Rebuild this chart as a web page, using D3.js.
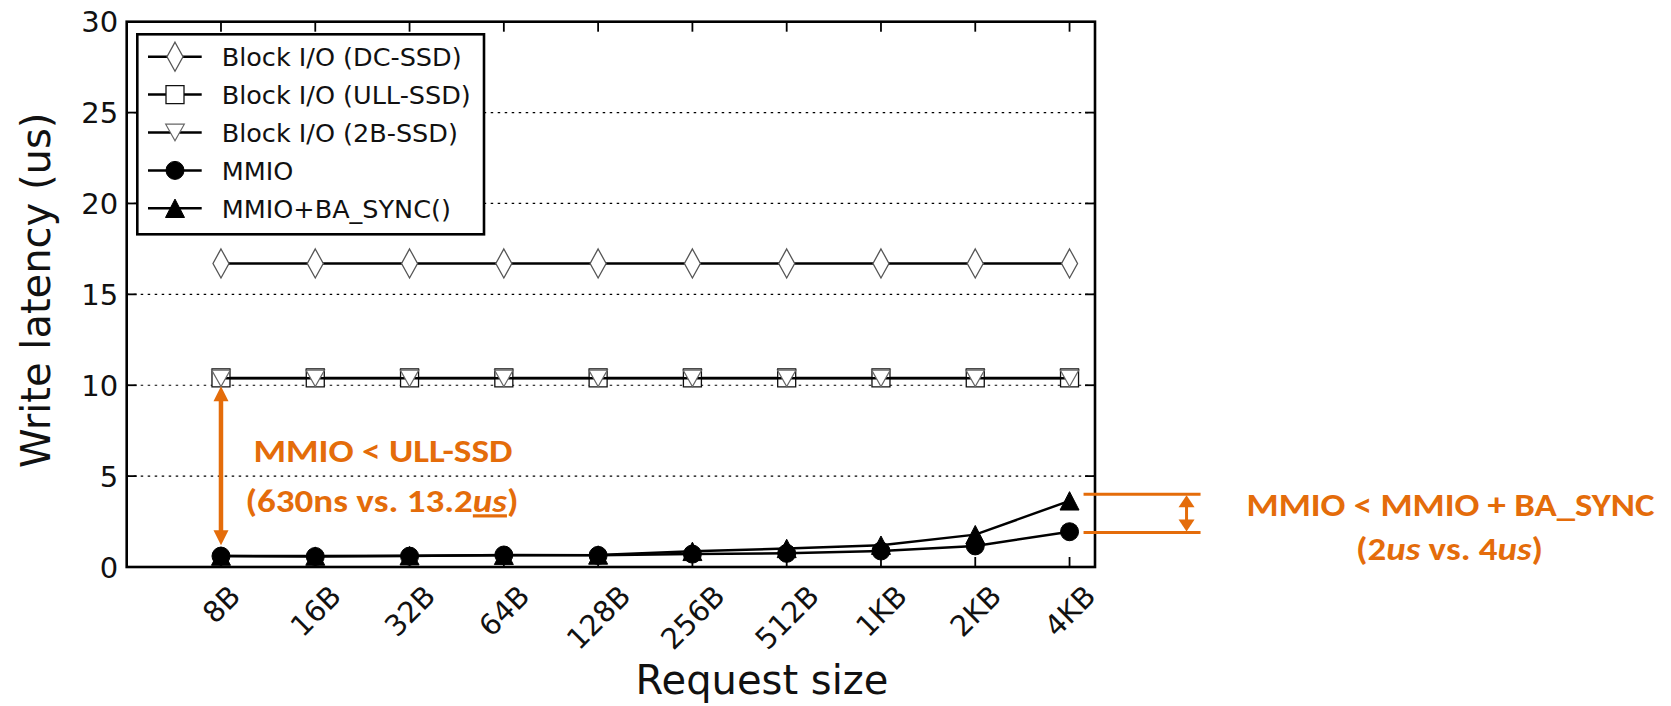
<!DOCTYPE html>
<html>
<head>
<meta charset="utf-8">
<script src="https://cdn.jsdelivr.net/npm/d3@7"></script>
<style>
  body { margin: 0; background: #fff; }
  svg { display: block; }
</style>
</head>
<body>
<div id="chart"></div>
<script>
// Data (write latency in us)
const sizes = ['8B', '16B', '32B', '64B', '128B', '256B', '512B', '1KB', '2KB', '4KB'];
const dcSsd  = [16.7, 16.7, 16.7, 16.7, 16.7, 16.7, 16.7, 16.7, 16.7, 16.7];
const ullSsd = [10.4, 10.4, 10.4, 10.4, 10.4, 10.4, 10.4, 10.4, 10.4, 10.4];
const b2Ssd  = [10.38, 10.38, 10.38, 10.38, 10.38, 10.38, 10.38, 10.38, 10.38, 10.38];
const mmio   = [0.6, 0.58, 0.6, 0.66, 0.64, 0.71, 0.75, 0.88, 1.16, 1.94];
const baSync = [0.6, 0.6, 0.62, 0.64, 0.66, 0.86, 1.02, 1.2, 1.78, 3.64];
const seriesNames = ['Block I/O (DC-SSD)', 'Block I/O (ULL-SSD)', 'Block I/O (2B-SSD)', 'MMIO', 'MMIO+BA_SYNC()'];
const yTicks = [0, 5, 10, 15, 20, 25, 30];
const gridTicks = [5, 10, 15, 20, 25];

// Set up SVG dimensions
const width = 1671;
const height = 706;
const margin = { top: 21.7, right: 576, bottom: 139, left: 126.7 };
const innerW = width - margin.left - margin.right;
const innerH = height - margin.top - margin.bottom;
const orange = '#E46C0A';
const font = '"DejaVu Sans", sans-serif';

const svg = d3.select('#chart')
  .append('svg')
  .attr('width', width)
  .attr('height', height);

const g = svg.append('g')
  .attr('transform', `translate(${margin.left},${margin.top})`);

// Scales
const x = d3.scaleLinear().domain([-1, 9.27]).range([0, innerW]);
const y = d3.scaleLinear().domain([0, 30]).range([innerH, 0]);

// Marker shapes
const markers = {
  diamond: 'M0,-14.5L8,0L0,14.5L-8,0Z',
  square: 'M-9,-9H9V9H-9Z',
  triDown: 'M-9.3,-8.3H9.3L0,8.3Z',
  circle: d3.symbol(d3.symbolCircle, Math.PI * 81)(),
  triUp: 'M0,-9.2L9.5,9.2H-9.5Z'
};

const series = [
  { name: seriesNames[0], values: dcSsd, marker: 'diamond', fill: '#fff', stroke: '#555', sw: 1.3 },
  { name: seriesNames[1], values: ullSsd, marker: 'square', fill: '#fff', stroke: '#111', sw: 1.3 },
  { name: seriesNames[2], values: b2Ssd, marker: 'triDown', fill: '#fff', stroke: '#666', sw: 1.2 },
  { name: seriesNames[3], values: mmio, marker: 'circle', fill: '#000', stroke: '#000', sw: 1 },
  { name: seriesNames[4], values: baSync, marker: 'triUp', fill: '#000', stroke: '#000', sw: 1 }
];

// Grid lines
g.selectAll('.grid')
  .data(gridTicks)
  .enter()
  .append('line')
  .attr('x1', 0)
  .attr('x2', innerW)
  .attr('y1', d => y(d))
  .attr('y2', d => y(d))
  .attr('stroke', '#000')
  .attr('stroke-width', 1.2)
  .attr('stroke-dasharray', '2.5,4.5');

// Lines and markers
const line = d3.line()
  .x((d, i) => x(i))
  .y(d => y(d));

series.forEach(s => {
  g.append('path')
    .datum(s.values)
    .attr('d', line)
    .attr('fill', 'none')
    .attr('stroke', '#000')
    .attr('stroke-width', 2.5);

  g.selectAll(null)
    .data(s.values)
    .enter()
    .append('path')
    .attr('d', markers[s.marker])
    .attr('transform', (d, i) => `translate(${x(i)},${y(d)})`)
    .attr('fill', s.fill)
    .attr('stroke', s.stroke)
    .attr('stroke-width', s.sw);
});

// Frame and inward ticks on all four sides
g.append('rect')
  .attr('width', innerW)
  .attr('height', innerH)
  .attr('fill', 'none')
  .attr('stroke', '#000')
  .attr('stroke-width', 2.6);

const tickLen = 10;
yTicks.slice(1, -1).forEach(t => {
  g.append('line').attr('x1', 0).attr('x2', tickLen).attr('y1', y(t)).attr('y2', y(t))
    .attr('stroke', '#000').attr('stroke-width', 1.8);
  g.append('line').attr('x1', innerW).attr('x2', innerW - tickLen).attr('y1', y(t)).attr('y2', y(t))
    .attr('stroke', '#000').attr('stroke-width', 1.8);
});
sizes.forEach((s, i) => {
  g.append('line').attr('x1', x(i)).attr('x2', x(i)).attr('y1', innerH).attr('y2', innerH - tickLen)
    .attr('stroke', '#000').attr('stroke-width', 1.8);
  g.append('line').attr('x1', x(i)).attr('x2', x(i)).attr('y1', 0).attr('y2', tickLen)
    .attr('stroke', '#000').attr('stroke-width', 1.8);
});

// Y tick labels
const tickFs = 29;
g.selectAll('.ylab')
  .data(yTicks)
  .enter()
  .append('text')
  .attr('x', -8.5)
  .attr('y', d => y(d) + 0.365 * tickFs)
  .attr('text-anchor', 'end')
  .style('font-family', font)
  .style('font-size', tickFs + 'px')
  .attr('fill', '#111')
  .text(d => d);

// X tick labels, rotated 45 degrees and centred under the tick
sizes.forEach((s, i) => {
  const t = g.append('text')
    .attr('text-anchor', 'middle')
    .attr('y', 0.365 * tickFs)
    .style('font-family', font)
    .style('font-size', tickFs + 'px')
    .attr('fill', '#111')
    .text(s);
  const w = t.node().getComputedTextLength();
  const half = (w + 0.73 * tickFs) / (2 * Math.SQRT2);
  t.attr('transform', `translate(${x(i)},${innerH + 16 + half}) rotate(-45)`);
});

// Axis labels
svg.append('text')
  .attr('x', 762)
  .attr('y', 694)
  .attr('text-anchor', 'middle')
  .style('font-family', font)
  .style('font-size', '40px')
  .attr('fill', '#111')
  .text('Request size');

svg.append('text')
  .attr('transform', `translate(50,${margin.top + innerH / 2 - 4}) rotate(-90)`)
  .attr('text-anchor', 'middle')
  .style('font-family', font)
  .style('font-size', '40px')
  .attr('fill', '#111')
  .text('Write latency (us)');

// Legend
const legend = g.append('g').attr('transform', 'translate(10.6,12.6)');
legend.append('rect')
  .attr('width', 346.7)
  .attr('height', 200)
  .attr('fill', '#fff')
  .attr('stroke', '#000')
  .attr('stroke-width', 2.6);

series.forEach((s, i) => {
  const row = legend.append('g').attr('transform', `translate(0,${22.4 + i * 37.9})`);
  row.append('line').attr('x1', 10.7).attr('x2', 64.4)
    .attr('stroke', '#000').attr('stroke-width', 2.5);
  row.append('path')
    .attr('d', markers[s.marker])
    .attr('transform', 'translate(37.7,0)')
    .attr('fill', s.fill)
    .attr('stroke', s.stroke)
    .attr('stroke-width', s.sw);
  row.append('text')
    .attr('x', 84.4)
    .attr('y', 0.365 * 25.5)
    .style('font-family', font)
    .style('font-size', '25.5px')
    .attr('fill', '#111')
    .text(s.name);
});

// Annotations
const noteFont = 'Carlito, Lato, "Open Sans", sans-serif';

function arrowHead(parent, cx, tipY, dir, w, len) {
  // dir = -1 points up, 1 points down
  parent.append('path')
    .attr('d', `M${cx},${tipY}L${cx - w / 2},${tipY - dir * len}L${cx + w / 2},${tipY - dir * len}Z`)
    .attr('fill', orange);
}

function noteText(parent, cx, baseY, targetW, parts) {
  const t = parent.append('text')
    .attr('x', cx)
    .attr('y', baseY)
    .attr('text-anchor', 'middle')
    .style('font-family', noteFont)
    .style('font-weight', 'bold')
    .style('font-size', '32px')
    .attr('fill', orange)
    .attr('textLength', targetW)
    .attr('lengthAdjust', 'spacingAndGlyphs');
  parts.forEach(p => {
    const ts = t.append('tspan').text(p.t);
    if (p.i) ts.style('font-style', 'italic');
    if (p.u) ts.style('text-decoration', 'underline');
  });
}

// MMIO vs ULL-SSD gap at 8B
const ax = x(0);
const topTip = y(10) + 1;
const botTip = y(1.2);
g.append('line')
  .attr('x1', ax).attr('x2', ax)
  .attr('y1', topTip + 10).attr('y2', botTip - 10)
  .attr('stroke', orange).attr('stroke-width', 4.5);
arrowHead(g, ax, topTip, -1, 15, 15);
arrowHead(g, ax, botTip, 1, 15, 15);

noteText(g, ax + 162, y(5.76), 259, [{ t: 'MMIO < ULL-SSD' }]);
noteText(g, ax + 161, y(3.01), 273, [{ t: '(630ns vs. 13.2' }, { t: 'us', i: true, u: true }, { t: ')' }]);

// MMIO vs MMIO + BA_SYNC gap at 4KB
const bx = x(9);
const hiY = y(4.0);
const loY = y(1.9);
[hiY, loY].forEach(yy => {
  g.append('line')
    .attr('x1', bx + 14).attr('x2', bx + 131)
    .attr('y1', yy).attr('y2', yy)
    .attr('stroke', orange).attr('stroke-width', 3);
});
g.append('line')
  .attr('x1', bx + 117).attr('x2', bx + 117)
  .attr('y1', hiY + 8).attr('y2', loY - 8)
  .attr('stroke', orange).attr('stroke-width', 3);
arrowHead(g, bx + 117, hiY + 1, -1, 16, 12);
arrowHead(g, bx + 117, loY - 1, 1, 16, 12);

noteText(g, bx + 381, y(2.82), 408, [{ t: 'MMIO < MMIO + BA_SYNC' }]);
noteText(g, bx + 380, y(0.385), 187, [{ t: '(2' }, { t: 'us', i: true }, { t: ' vs. 4' }, { t: 'us', i: true }, { t: ')' }]);
</script>
</body>
</html>
